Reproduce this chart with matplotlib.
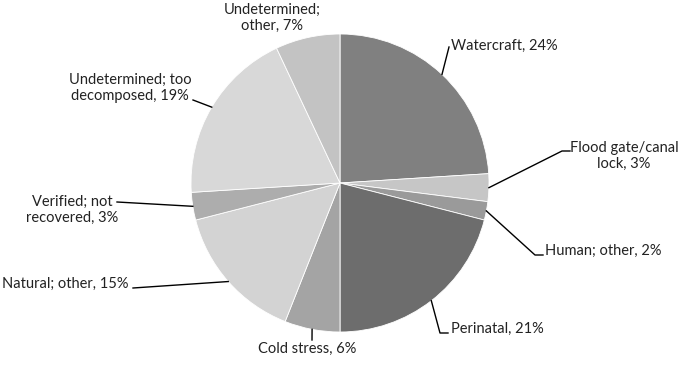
import numpy as np
import matplotlib
matplotlib.use("Agg")
import matplotlib.pyplot as plt

# --- Data ---
labels = ["Watercraft", "Flood gate/canal\nlock", "Human; other", "Perinatal",
          "Cold stress", "Natural; other", "Verified; not\nrecovered",
          "Undetermined; too\ndecomposed", "Undetermined;\nother"]
values = [24, 3, 2, 21, 6, 15, 3, 19, 7]
colors = ["#808080", "#c6c6c6", "#9a9a9a", "#6d6d6d", "#a4a4a4",
          "#d3d3d3", "#adadad", "#d8d8d8", "#c3c3c3"]

# label anchor (pixel coords, y from top), alignment, leader elbow
label_pos = [
    (451, 46, "left", [(449, 47)]),
    (624, 156, "center", [(562, 151), (570, 151)]),
    (545, 251, "left", [(535, 255), (543, 255)]),
    (451, 329, "left", [(440, 333), (448, 333)]),
    (307, 349, "center", [(312, 340)]),
    (2, 284, "left", [(133, 288)]),
    (72, 210, "center", [(117, 202)]),
    (130, 88, "center", [(193, 100)]),
    (272, 18, "center", None),
]

W, H = 680, 366
cx, cy, r = 340, 183, 149

fig = plt.figure(figsize=(W / 100, H / 100), dpi=100)
ax = fig.add_axes([0, 0, 1, 1])
ax.set_xlim(0, W)
ax.set_ylim(0, H)
ax.set_aspect("equal")
ax.axis("off")

wedges, _ = ax.pie(values, colors=colors, startangle=90, counterclock=False,
                   center=(cx, H - cy), radius=r, frame=True,
                   wedgeprops=dict(linewidth=0.6, edgecolor="#ffffff"))
ax.set_xlim(0, W)
ax.set_ylim(0, H)
ax.axis("off")

for w, lab, v, (lx, ly, ha, elbow) in zip(wedges, labels, values, label_pos):
    txt = f"{lab}, {v}%"
    ax.text(lx, H - ly, txt, ha=ha, va="center", fontsize=10.5,
            family="Lato", color="#222222", linespacing=1.15)
    if elbow:
        ang = np.deg2rad((w.theta1 + w.theta2) / 2)
        pts = [(cx + r * np.cos(ang), H - cy + r * np.sin(ang))]
        pts += [(x, H - y) for x, y in elbow]
        xs, ys = zip(*pts)
        ax.plot(xs, ys, color="black", lw=1.0)

fig.savefig("out.png", dpi=100)
